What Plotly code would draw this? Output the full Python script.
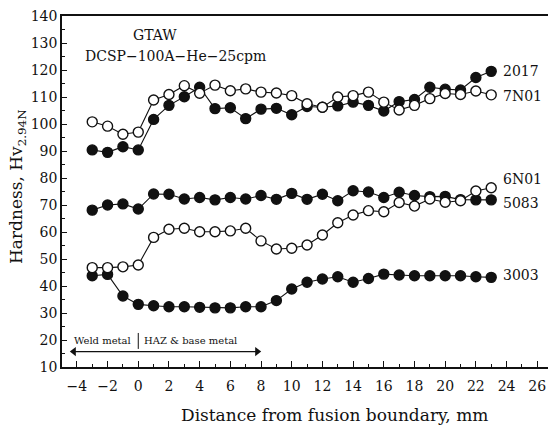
import plotly.graph_objects as go

# ---- data ----
distance_mm = [-3, -2, -1, 0, 1, 2, 3, 4, 5, 6, 7, 8, 9, 10, 11, 12, 13,
               14, 15, 16, 17, 18, 19, 20, 21, 22, 23]

hv_2017 = [90.4, 89.5, 91.6, 90.4, 101.7, 106.9, 110.1, 113.6, 105.7, 106.0,
           102.0, 105.5, 105.8, 103.4, 106.5, 106.2, 106.7, 108.1, 106.9,
           104.8, 108.3, 109.1, 113.6, 112.9, 112.6, 117.2, 119.5]
hv_7n01 = [100.8, 99.2, 96.2, 97.0, 108.9, 110.9, 114.2, 111.4, 114.4, 112.3,
           113.0, 111.8, 111.5, 110.5, 107.5, 106.2, 110.0, 110.5, 111.8,
           108.1, 105.2, 106.9, 109.4, 111.3, 110.9, 112.2, 110.8]
hv_5083 = [68.1, 70.0, 70.4, 68.5, 74.1, 74.0, 72.2, 72.8, 71.9, 72.8, 72.2,
           73.5, 72.1, 74.3, 72.1, 74.0, 71.6, 75.3, 74.8, 72.8, 74.7, 73.5,
           73.1, 73.2, 72.0, 71.9, 71.9]
hv_6n01 = [46.8, 46.8, 47.1, 47.8, 58.0, 61.0, 61.4, 60.1, 60.1, 60.4, 61.4,
           56.7, 53.7, 54.0, 55.2, 58.9, 63.4, 66.3, 67.9, 67.5, 70.9, 69.6,
           72.2, 71.0, 71.6, 75.2, 76.4]
hv_3003 = [43.8, 44.3, 36.3, 33.2, 32.7, 32.3, 32.3, 32.1, 31.9, 31.9, 32.3,
           32.3, 34.6, 38.9, 41.4, 42.6, 43.4, 41.4, 42.8, 44.4, 44.1, 43.8,
           43.8, 43.8, 43.8, 43.4, 43.2]

series_names = ["2017", "7N01", "6N01", "5083", "3003"]
series_open = {"2017": False, "7N01": True, "6N01": True, "5083": False, "3003": False}
series_values = {"2017": hv_2017, "7N01": hv_7n01, "6N01": hv_6n01,
                 "5083": hv_5083, "3003": hv_3003}

x_tick_values = [-4, -2, 0, 2, 4, 6, 8, 10, 12, 14, 16, 18, 20, 22, 24, 26]
y_tick_values = [10, 20, 30, 40, 50, 60, 70, 80, 90, 100, 110, 120, 130, 140]

# region arrow extent (mm) and level (Hv)
region_arrow_x = [-4.2, 7.75]
region_arrow_y = [15.7, 15.7]

FONT = "DejaVu Serif"
BLACK = "#111111"

fig = go.Figure()

# filled series first, open series drawn on top
order = [n for n in series_names if not series_open[n]] + \
        [n for n in series_names if series_open[n]]
for name in order:
    is_open = series_open[name]
    fig.add_trace(go.Scatter(
        x=distance_mm, y=series_values[name], mode="lines+markers", name=name,
        line=dict(color=BLACK, width=1.1),
        marker=dict(symbol="circle", size=10,
                    color="white" if is_open else BLACK,
                    line=dict(color=BLACK, width=1.4)),
        showlegend=False,
    ))

# double-headed arrow (Weld metal <-> HAZ & base metal)
fig.add_trace(go.Scatter(
    x=region_arrow_x, y=region_arrow_y, mode="lines+markers",
    line=dict(color=BLACK, width=1.2),
    marker=dict(symbol=["triangle-left", "triangle-right"], size=8,
                color=BLACK, line=dict(width=0)),
    showlegend=False, hoverinfo="skip",
))

# series labels at line ends
label_offsets = {"2017": 0.0, "7N01": -0.4, "6N01": 3.2, "5083": -1.0, "3003": 0.9}
annotations = []
for name in series_names:
    annotations.append(dict(
        x=distance_mm[-1] + 0.65, y=series_values[name][-1] + label_offsets[name],
        xref="x", yref="y", text=name, showarrow=False, xanchor="left",
        yanchor="middle", font=dict(family=FONT, size=14, color=BLACK)))

# process texts
annotations.append(dict(x=1.1, y=133.0, xref="x", yref="y", text="GTAW",
                        showarrow=False, xanchor="center", yanchor="middle",
                        font=dict(family=FONT, size=14, color=BLACK)))
annotations.append(dict(x=2.45, y=125.2, xref="x", yref="y",
                        text="DCSP−100A−He−25cpm", showarrow=False,
                        xanchor="center", yanchor="middle",
                        font=dict(family=FONT, size=14, color=BLACK)))

# region labels
annotations.append(dict(x=-0.35, y=19.7, xref="x", yref="y", text="Weld metal",
                        showarrow=False, xanchor="right", yanchor="middle",
                        font=dict(family=FONT, size=10, color=BLACK)))
annotations.append(dict(x=0.25, y=19.7, xref="x", yref="y",
                        text="HAZ &amp; base metal", showarrow=False,
                        xanchor="left", yanchor="middle",
                        font=dict(family=FONT, size=10, color=BLACK)))

# axis titles
annotations.append(dict(x=(334 - 62) / 486, y=-(415 - 367) / 351,
                        xref="paper", yref="paper",
                        text="Distance from fusion boundary, mm",
                        showarrow=False, xanchor="center", yanchor="middle",
                        font=dict(family=FONT, size=17, color=BLACK)))
annotations.append(dict(x=-(62 - 17) / 486, y=(367 - 187) / 351,
                        xref="paper", yref="paper",
                        text="Hardness, Hv<sub>2.94N</sub>", textangle=-90,
                        showarrow=False, xanchor="center", yanchor="middle",
                        font=dict(family=FONT, size=17, color=BLACK)))

fig.update_layout(
    width=552, height=428,
    margin=dict(l=62, r=4, t=16, b=61),
    paper_bgcolor="white", plot_bgcolor="white",
    font=dict(family=FONT, size=14, color=BLACK),
    annotations=annotations,
    shapes=[dict(type="line", xref="x", yref="y", x0=0, x1=0, y0=16.7, y1=22.6,
                 line=dict(color=BLACK, width=1))],
)

fig.update_xaxes(
    range=[-4.97, 26.7], tickvals=x_tick_values,
    ticks="inside", ticklen=6, tickwidth=1, tickcolor=BLACK,
    minor=dict(dtick=1, tick0=0, ticks="inside", ticklen=3, tickcolor=BLACK),
    showline=True, linecolor=BLACK, linewidth=1.5, mirror=True,
    showgrid=False, zeroline=False, ticklabelstandoff=5,
    tickfont=dict(family=FONT, size=14, color=BLACK),
)
fig.update_yaxes(
    range=[10, 140], tickvals=y_tick_values,
    ticks="inside", ticklen=5, tickwidth=1, tickcolor=BLACK,
    minor=dict(dtick=5, tick0=0, ticks="inside", ticklen=3, tickcolor=BLACK),
    showline=True, linecolor=BLACK, linewidth=1.5, mirror=False,
    showgrid=False, zeroline=False,
    tickfont=dict(family=FONT, size=14, color=BLACK),
)

fig.write_html("out.html")
